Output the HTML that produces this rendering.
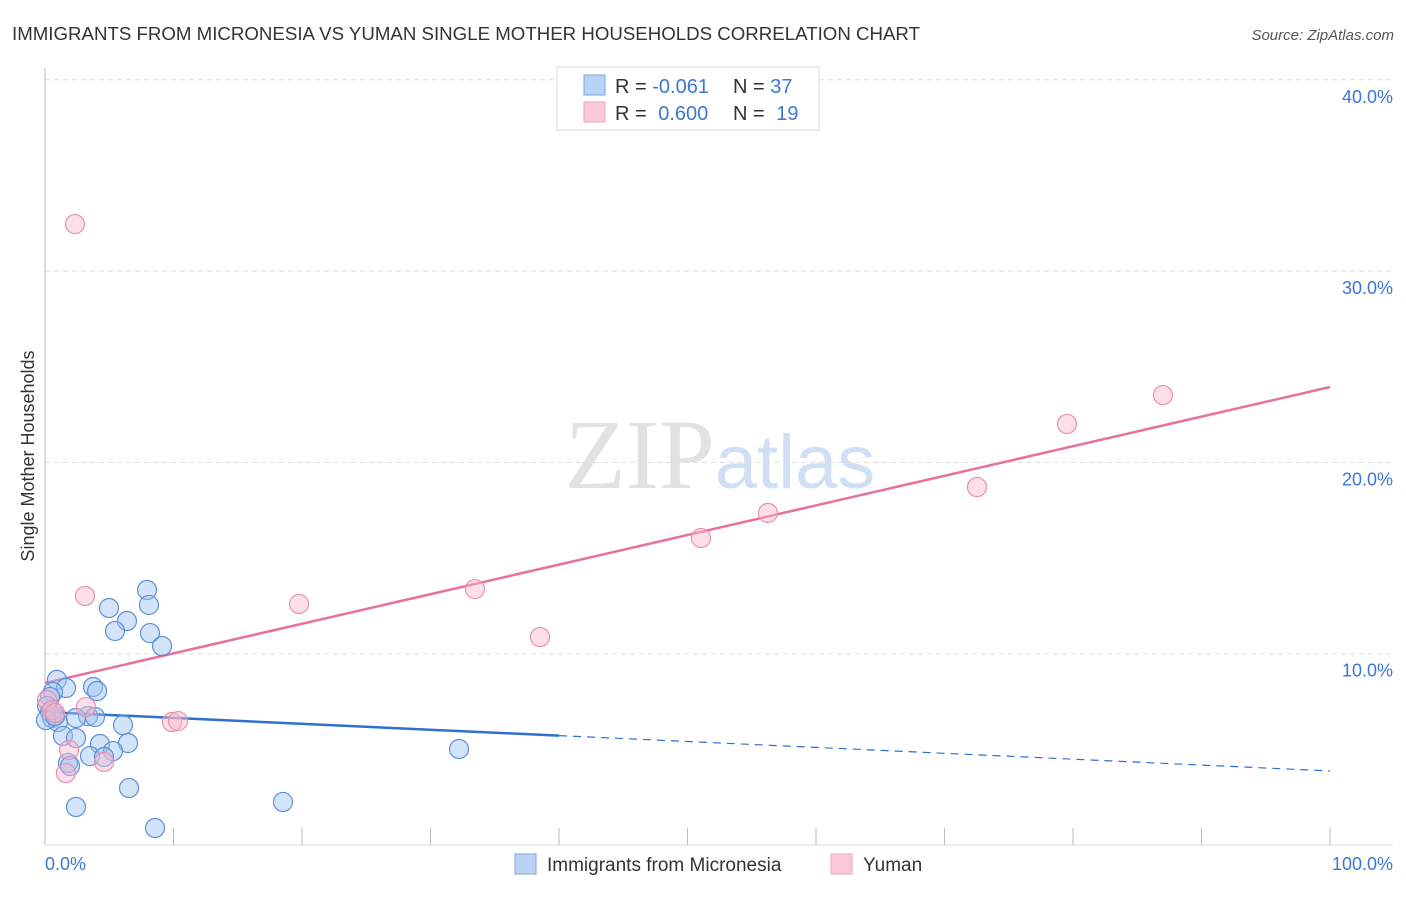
<!DOCTYPE html>
<html><head><meta charset="utf-8"><style>
body{margin:0;background:#fff;font-family:"Liberation Sans",sans-serif;}
svg text{font-family:"Liberation Sans",sans-serif;}
</style></head><body>
<svg id="chart" width="1406" height="892" xmlns="http://www.w3.org/2000/svg">
<text x="12" y="40" font-size="18" fill="#333" textLength="908" lengthAdjust="spacingAndGlyphs">IMMIGRANTS FROM MICRONESIA VS YUMAN SINGLE MOTHER HOUSEHOLDS CORRELATION CHART</text>
<text x="1394" y="40" font-size="15" fill="#555" text-anchor="end" font-style="italic">Source: ZipAtlas.com</text>
<text x="720" y="488" font-size="100" text-anchor="middle"><tspan fill="#e2e2e2" font-family="Liberation Serif">ZIP</tspan><tspan fill="#cfe0f5" font-size="76">atlas</tspan></text>
<g id="grid"></g>
<g id="axes"></g>
<g id="lines"></g>
<g id="points"></g>
<text transform="translate(34,456) rotate(-90)" font-size="18" fill="#333" text-anchor="middle">Single Mother Households</text>
<text x="45" y="870" font-size="18" fill="#3b78d4">0.0%</text>
<text x="1393" y="870" font-size="18" fill="#3b78d4" text-anchor="end">100.0%</text>
<g>
<rect x="557" y="67" width="262" height="63" fill="#fff" stroke="#ddd"/>
<rect x="584" y="75" width="21" height="20" fill="#b9d2f5" stroke="#7ea6e0"/>
<rect x="584" y="102" width="21" height="20" fill="#fbc8d8" stroke="#eea3bd"/>
<text x="615" y="93" font-size="20" fill="#333">R = <tspan fill="#3b78d4">-0.061</tspan></text>
<text x="733" y="93" font-size="20" fill="#333">N = <tspan fill="#3b78d4">37</tspan></text>
<text x="615" y="120" font-size="20" fill="#333">R = <tspan fill="#3b78d4" dx="6">0.600</tspan></text>
<text x="733" y="120" font-size="20" fill="#333">N = <tspan fill="#3b78d4" dx="6">19</tspan></text>
</g>
<g>
<rect x="515" y="854" width="21" height="20" fill="#b9d2f5" stroke="#7ea6e0"/>
<text x="547" y="871" font-size="19" fill="#333">Immigrants from Micronesia</text>
<rect x="831" y="854" width="21" height="20" fill="#fbc8d8" stroke="#eea3bd"/>
<text x="863" y="871" font-size="19" fill="#333">Yuman</text>
</g>
</svg>
<script>
const yTicks=[10,20,30,40];
const yTickLabels=["10.0%","20.0%","30.0%","40.0%"];
const xTicks=[10,20,30,40,50,60,70,80,90,100];
const blueX=[7.94,8.09,4.98,6.38,5.45,8.17,9.11,0.93,3.74,4.05,1.63,0.62,0.39,0.16,0.39,0.54,1.01,3.35,3.89,2.41,6.07,1.40,2.41,4.28,6.46,5.29,3.50,4.59,1.79,1.95,6.54,2.41,18.52,8.56,32.22,0.08,0.78];
const blueY=[13.33,12.55,12.39,11.71,11.19,11.08,10.40,8.63,8.26,8.05,8.21,8.00,7.74,7.27,6.95,6.64,6.43,6.74,6.69,6.64,6.27,5.70,5.59,5.28,5.33,4.91,4.65,4.60,4.29,4.13,2.98,1.99,2.25,0.89,5.02,6.53,6.74];
const pinkX=[2.33,3.11,19.77,33.46,38.52,51.05,56.26,72.53,79.53,87.00,9.88,10.35,3.19,0.16,0.54,0.78,1.87,4.59,1.63];
const pinkY=[32.46,13.02,12.60,13.38,10.87,16.05,17.36,18.71,22.01,23.52,6.43,6.48,7.21,7.58,7.06,6.90,4.97,4.34,3.76];
const blueTrend=[6.95,3.87];
const pinkTrend=[8.47,23.94];
const blueSolidEnd=40;
const NS="http://www.w3.org/2000/svg";
const xs=v=>45+v*12.85;
const ys=v=>845-v*19.13;
function mk(tag,attrs,parent){const e=document.createElementNS(NS,tag);for(const k in attrs)e.setAttribute(k,attrs[k]);document.getElementById(parent).appendChild(e);return e;}
yTicks.forEach((t,i)=>{
 const l=mk('line',{x1:45,x2:1393,y1:ys(t),y2:ys(t),stroke:'#ddd','stroke-dasharray':'5,4'},'grid');
 
 
 const tx=mk('text',{x:1393,y:ys(t)+23,'font-size':18,fill:'#3b78d4','text-anchor':'end'},'grid');
 tx.textContent=yTickLabels[i];
 
 
});
const ax=mk('line',{x1:45,x2:45,y1:68,y2:845,stroke:'#bbb'},'axes');


const bx=mk('line',{x1:45,x2:1393,y1:845,y2:845,stroke:'#ddd'},'axes');


xTicks.forEach(t=>{
 const l=mk('line',{x1:xs(t),x2:xs(t),y1:828,y2:845,stroke:'#bbb'},'axes');
 
 
});
const tY=(tr,x)=>tr[0]+(tr[1]-tr[0])*x/100;
let l1=mk('line',{x1:xs(0),y1:ys(tY(pinkTrend,0)),x2:xs(100),y2:ys(tY(pinkTrend,100)),stroke:'#e8709a','stroke-width':2.5},'lines');


let l2=mk('line',{x1:xs(0),y1:ys(tY(blueTrend,0)),x2:xs(blueSolidEnd),y2:ys(tY(blueTrend,blueSolidEnd)),stroke:'#2f6fd0','stroke-width':2.5},'lines');


let l3=mk('line',{x1:xs(blueSolidEnd),y1:ys(tY(blueTrend,blueSolidEnd)),x2:xs(100),y2:ys(tY(blueTrend,100)),stroke:'#2f6fd0','stroke-width':1.2,'stroke-dasharray':'8,6'},'lines');


blueX.forEach((x,i)=>{
 const c=mk('circle',{cx:xs(x),cy:ys(blueY[i]),r:9.5,fill:'rgba(160,195,240,0.45)',stroke:'#5b8fd8','stroke-width':1.2},'points');
 
 
});
pinkX.forEach((x,i)=>{
 const c=mk('circle',{cx:xs(x),cy:ys(pinkY[i]),r:9.5,fill:'rgba(248,185,205,0.45)',stroke:'#e890b0','stroke-width':1.2},'points');
 
 
});
</script>
</body></html>
